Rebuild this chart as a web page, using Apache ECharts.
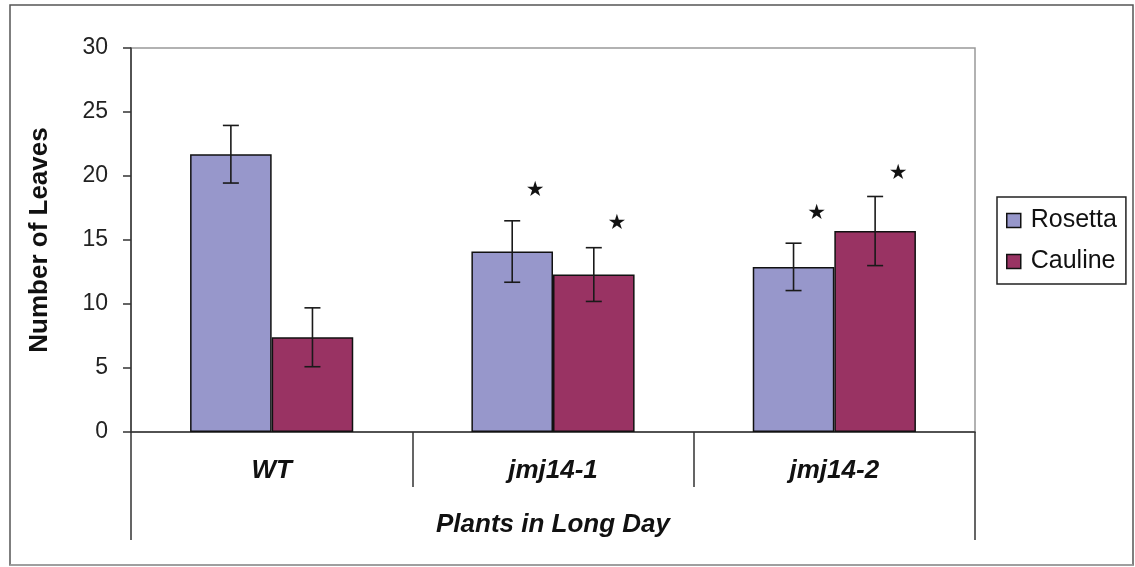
<!DOCTYPE html>
<html>
<head>
<meta charset="utf-8">
<script src="https://cdn.jsdelivr.net/npm/echarts@6/dist/echarts.min.js"></script>
<style>html,body{margin:0;padding:0;background:#fff;}#c{width:1135px;height:567px;}</style>
</head>
<body>
<div id="c"></div>
<script>
var categories = ['WT', 'jmj14-1', 'jmj14-2'];
var groupLabel = ['Plants in Long Day'];
var rosetta = [21.7, 14.1, 12.9];
var cauline = [7.4, 12.3, 15.7];
var rosettaErr = [2.25, 2.4, 1.85];
var caulineErr = [2.3, 2.1, 2.7];
var rosettaStar = [null, 18.85, 17.1];
var caulineStar = [null, 16.25, 20.2];
var yTicks = [0, 5, 10, 15, 20, 25, 30];

var FONT = "'Liberation Sans', Arial, sans-serif";
var CAT_GAP = 0.42;

function errData(vals, errs) {
  return vals.map(function (v, i) { return [i, v - errs[i], v + errs[i]]; });
}
function starData(vals) {
  var out = [];
  vals.forEach(function (v, i) { if (v != null) out.push([i, v]); });
  return out;
}
function barShift(api, side) {
  var band = api.size([1, 0])[0];
  var bw = band * (1 - CAT_GAP) / 2;
  return side * bw / 2;
}
function errRender(side) {
  return function (params, api) {
    var dx = barShift(api, side);
    var lo = api.coord([api.value(0), api.value(1)]);
    var hi = api.coord([api.value(0), api.value(2)]);
    var x = lo[0] + dx, cap = 8;
    var st = { stroke: '#1a1a1a', lineWidth: 1.6 };
    return {
      type: 'group',
      children: [
        { type: 'line', shape: { x1: x, y1: lo[1], x2: x, y2: hi[1] }, style: st },
        { type: 'line', shape: { x1: x - cap, y1: hi[1], x2: x + cap, y2: hi[1] }, style: st },
        { type: 'line', shape: { x1: x - cap, y1: lo[1], x2: x + cap, y2: lo[1] }, style: st }
      ]
    };
  };
}
function starRender(side) {
  return function (params, api) {
    var dx = barShift(api, side);
    var p = api.coord([api.value(0), api.value(1)]);
    return {
      type: 'text',
      x: p[0] + dx + 23, y: p[1],
      style: { text: '\u2605', fontSize: 21, fontFamily: 'DejaVu Sans', fill: '#111', align: 'center', verticalAlign: 'middle' }
    };
  };
}

var chart = echarts.init(document.getElementById('c'));
chart.setOption({
  animation: false,
  backgroundColor: '#fff',
  graphic: [
    { type: 'rect', shape: { x: 10, y: 5, width: 1123, height: 560 }, style: { fill: 'none', stroke: '#555', lineWidth: 1.5 }, z: 100 },
    { type: 'line', shape: { x1: 10, y1: 565, x2: 1133, y2: 565 }, style: { stroke: '#aaa', lineWidth: 1.5 }, z: 101 }
  ],
  grid: { left: 131, top: 48, width: 844, height: 384, show: true, borderColor: '#999', borderWidth: 1.5, backgroundColor: 'transparent' },
  legend: {
    orient: 'vertical', left: 997, top: 197,
    data: ['Rosetta', 'Cauline'],
    icon: 'rect', itemWidth: 14, itemHeight: 14, itemGap: 16,
    padding: [11, 9, 10, 9],
    borderColor: '#222', borderWidth: 1.5, borderRadius: 0,
    itemStyle: { borderColor: '#111', borderWidth: 1.5 },
    textStyle: { fontFamily: FONT, fontSize: 25, color: '#111', lineHeight: 25, padding: [0, 0, 0, 5] }
  },
  xAxis: [
    {
      type: 'category', data: categories, gridIndex: 0, position: 'bottom',
      axisLine: { show: true, lineStyle: { color: '#333', width: 1.5 } },
      axisTick: { show: true, interval: 0, length: 55, lineStyle: { color: '#333', width: 1.5 } },
      axisLabel: { interval: 0, margin: 26, fontFamily: FONT, fontSize: 26, fontWeight: 'bold', fontStyle: 'italic', color: '#111' }
    },
    {
      type: 'category', data: groupLabel, gridIndex: 0, position: 'bottom',
      axisLine: { show: false },
      axisTick: { show: true, interval: 0, length: 108, lineStyle: { color: '#333', width: 1.5 } },
      axisLabel: { interval: 0, margin: 80, fontFamily: FONT, fontSize: 26, fontWeight: 'bold', fontStyle: 'italic', color: '#111' }
    }
  ],
  yAxis: {
    type: 'value', min: yTicks[0], max: yTicks[yTicks.length - 1], interval: 5,
    name: 'Number of Leaves', nameLocation: 'middle', nameGap: 78, nameRotate: 90,
    nameTextStyle: { fontFamily: FONT, fontSize: 26, fontWeight: 'bold', color: '#111' },
    axisLine: { show: true, lineStyle: { color: '#333', width: 1.5 } },
    axisTick: { show: true, length: 8, lineStyle: { color: '#333', width: 1.5 } },
    splitLine: { show: false },
    axisLabel: { margin: 23, fontFamily: FONT, fontSize: 23, color: '#222' }
  },
  series: [
    { name: 'Rosetta', type: 'bar', data: rosetta, barGap: '0%', barCategoryGap: (CAT_GAP * 100) + '%',
      itemStyle: { color: '#9797CB', borderColor: '#111', borderWidth: 1.5 } },
    { name: 'Cauline', type: 'bar', data: cauline, barGap: '0%', barCategoryGap: (CAT_GAP * 100) + '%',
      itemStyle: { color: '#993363', borderColor: '#111', borderWidth: 1.5 } },
    { type: 'custom', renderItem: errRender(-1), data: errData(rosetta, rosettaErr), z: 5, silent: true },
    { type: 'custom', renderItem: errRender(1), data: errData(cauline, caulineErr), z: 5, silent: true },
    { type: 'custom', renderItem: starRender(-1), data: starData(rosettaStar), z: 5, silent: true },
    { type: 'custom', renderItem: starRender(1), data: starData(caulineStar), z: 5, silent: true }
  ]
});
</script>
</body>
</html>
